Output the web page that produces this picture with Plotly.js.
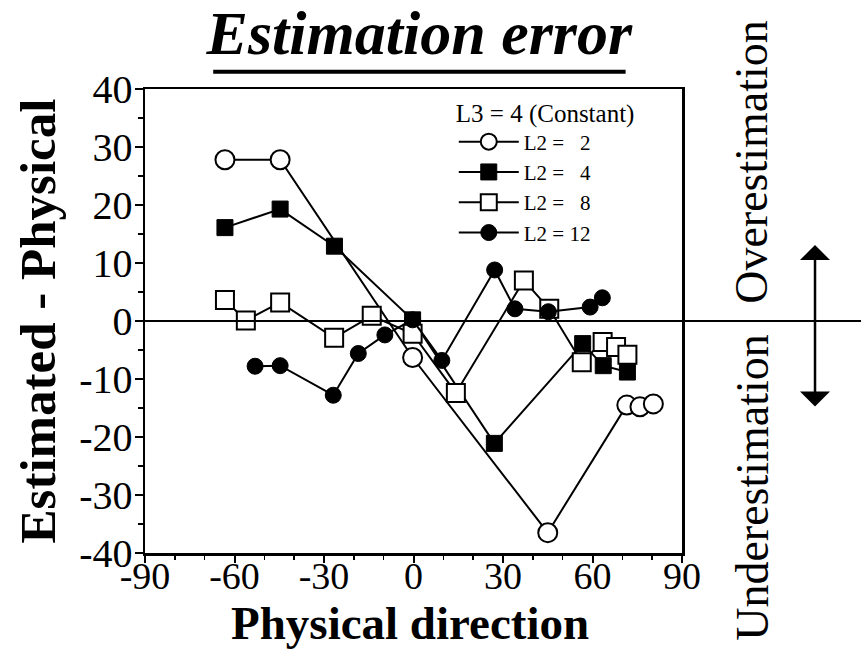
<!DOCTYPE html>
<html>
<head>
<meta charset="utf-8">
<script src="https://cdn.plot.ly/plotly-3.0.1.min.js"></script>
<style>html,body{margin:0;padding:0;background:#fff;}#chart{width:861px;height:655px;}</style>
</head>
<body>
<div id="chart"></div>
<script>
// Physical direction (deg) and estimation error (deg) per series
const dirL2_2 = [-63.2, -44.7, -0.3, 45.0, 71.5, 75.9, 80.4];
const errL2_2 = [27.8, 27.8, -6.3, -36.5, -14.5, -14.8, -14.3];

const dirL2_4 = [-63.2, -44.7, -26.5, -0.3, 27.1, 56.7, 63.6, 71.7];
const errL2_4 = [16.1, 19.3, 12.9, 0.2, -21.1, -3.9, -7.7, -8.8];

const dirL2_8 = [-63.2, -56.2, -44.7, -26.6, -14.0, -0.3, 14.2, 37.0, 45.5, 56.4, 63.4, 67.9, 71.7];
const errL2_8 = [3.6, 0.1, 3.2, -2.9, 0.9, -2.2, -12.4, 7.0, 2.1, -7.1, -3.6, -4.5, -5.8];

const dirL2_12 = [-53.1, -44.7, -26.9, -18.5, -9.6, -0.3, 9.5, 27.2, 34.0, 45.2, 59.2, 63.3];
const errL2_12 = [-7.8, -7.7, -12.8, -5.6, -2.4, 0.2, -6.8, 8.8, 2.1, 1.6, 2.4, 4.0];

const seriesNames = ["L2 =\u2002 2", "L2 =\u2002 4", "L2 =\u2002 8", "L2 = 12"];
const xTickVals = [-90, -60, -30, 0, 30, 60, 90];
const yTickVals = [-40, -30, -20, -10, 0, 10, 20, 30, 40];

const serif = "Liberation Serif, Times New Roman, serif";
const lineStyle = {color: "black", width: 2};

const traces = [
  {x: dirL2_2, y: errL2_2, name: seriesNames[0], mode: "lines+markers", line: lineStyle,
   marker: {symbol: "circle", size: 19, color: "white", line: {color: "black", width: 2}}},
  {x: dirL2_4, y: errL2_4, name: seriesNames[1], mode: "lines+markers", line: lineStyle,
   marker: {symbol: "square", size: 16, color: "black", line: {color: "black", width: 1}}},
  {x: dirL2_8, y: errL2_8, name: seriesNames[2], mode: "lines+markers", line: lineStyle,
   marker: {symbol: "square", size: 18, color: "white", line: {color: "black", width: 2}}},
  {x: dirL2_12, y: errL2_12, name: seriesNames[3], mode: "lines+markers", line: lineStyle,
   marker: {symbol: "circle", size: 16, color: "black", line: {color: "black", width: 1}}}
];

const layout = {
  width: 861, height: 655,
  margin: {l: 145, r: 179, t: 89, b: 102},
  paper_bgcolor: "white", plot_bgcolor: "white",
  font: {family: serif, color: "black"},
  title: {text: "Estimation error", x: 0.487, xanchor: "center", y: 0.95, yanchor: "middle",
          font: {family: serif, size: 62, weight: "bold", style: "italic"}},
  xaxis: {
    range: [-90, 90], tickvals: xTickVals, ticktext: xTickVals.map(String),
    showgrid: false, zeroline: false, showline: true, linecolor: "black", linewidth: 2.5, mirror: true,
    ticks: "outside", ticklen: 7, tickwidth: 2, tickcolor: "black",
    minor: {dtick: 10, ticks: "outside", ticklen: 4, tickwidth: 1.5, tickcolor: "black"},
    tickfont: {family: serif, size: 38}, ticklabelstandoff: -19
  },
  yaxis: {
    range: [-40, 40], tickvals: yTickVals, ticktext: yTickVals.map(String),
    showgrid: false, zeroline: false, showline: true, linecolor: "black", linewidth: 2.5, mirror: true,
    ticks: "outside", ticklen: 8, tickwidth: 2, tickcolor: "black",
    minor: {dtick: 5, ticks: "outside", ticklen: 5, tickwidth: 1.5, tickcolor: "black"},
    tickfont: {family: serif, size: 40}, ticklabelstandoff: -6,
    title: {text: "Estimated - Physical", standoff: 8, font: {family: serif, size: 51, weight: "bold"}}
  },
  showlegend: true,
  legend: {
    x: 0.575, y: 1.0, xanchor: "left", yanchor: "top",
    bgcolor: "rgba(0,0,0,0)", borderwidth: 0,
    font: {family: serif, size: 21, color: "black"},
    title: {text: "L3 = 4 (Constant)", side: "top", font: {family: serif, size: 25}},
    itemwidth: 60, tracegroupgap: 0
  },
  shapes: [
    {type: "line", xref: "paper", yref: "paper", x0: 0, x1: 1.34, y0: 0.5, y1: 0.5,
     line: {color: "black", width: 2}, layer: "above"},
    {type: "line", xref: "paper", yref: "paper", x0: 0.127, x1: 0.895, y0: 1.037, y1: 1.037,
     line: {color: "black", width: 4}}
  ],
  annotations: [
    {text: "<b>Physical direction</b>", xref: "paper", yref: "paper", x: 0.494, y: -0.150,
     showarrow: false, font: {family: serif, size: 47, color: "black"}, xanchor: "center", yanchor: "middle"},
    {text: "Overestimation", xref: "paper", yref: "paper", x: 1.130, y: 0.8427, textangle: -90,
     showarrow: false, font: {family: serif, size: 46, color: "black"}, xanchor: "center", yanchor: "middle"},
    {text: "Underestimation", xref: "paper", yref: "paper", x: 1.130, y: 0.1422, textangle: -90,
     showarrow: false, font: {family: serif, size: 46, color: "black"}, xanchor: "center", yanchor: "middle"},
    {text: "", xref: "paper", yref: "paper", x: 1.2477, y: 0.6638, axref: "pixel", ayref: "pixel",
     ax: 0, ay: 163, showarrow: true, arrowhead: 1, arrowside: "end+start", arrowsize: 2, arrowwidth: 2.5,
     arrowcolor: "black", standoff: 0, startstandoff: 0}
  ]
};

Plotly.newPlot("chart", traces, layout, {displayModeBar: false, staticPlot: true});
</script>
</body>
</html>
